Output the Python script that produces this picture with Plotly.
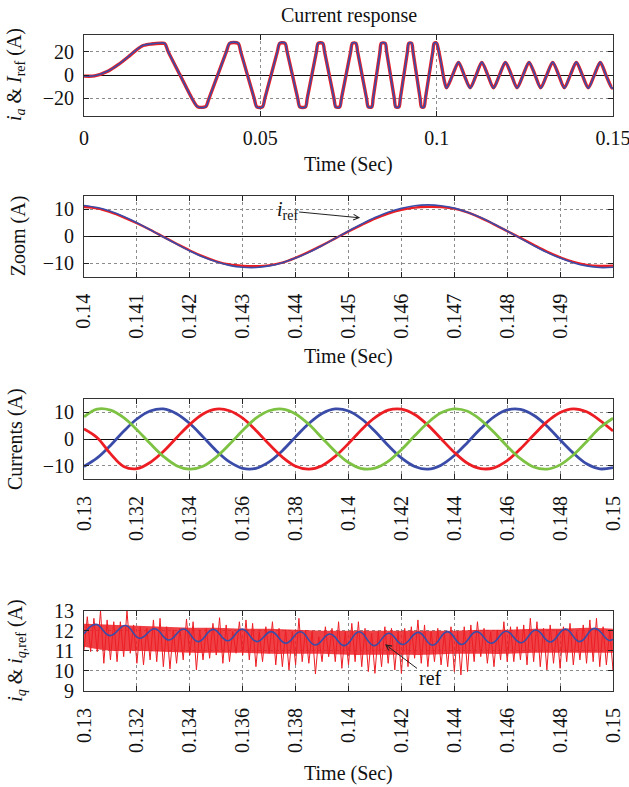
import plotly.graph_objects as go

# ---------------- data ----------------
# Panel 1: phase current and its reference over the whole run
t_top = [
    0.0000, 0.0030, 0.0069, 0.0097, 0.0125, 0.0149, 0.0168, 0.0191, 0.0218, 0.0229,
    0.0239, 0.02725, 0.0306, 0.0322, 0.0345,
    0.03545, 0.0379, 0.04035, 0.0413, 0.0437,
    0.04445, 0.04635, 0.04825, 0.0490, 0.0506,
    0.05129, 0.05305, 0.05481, 0.0555, 0.0570,
    0.0576, 0.0591, 0.0606, 0.0612, 0.0628,
    0.0633, 0.0646, 0.0659, 0.0664, 0.0677,
    0.06822, 0.06955, 0.07088, 0.0714, 0.0725,
    0.0730, 0.0743, 0.0756, 0.0761, 0.0771,
    0.07759, 0.07885, 0.08011, 0.0806, 0.0816,
    0.08198, 0.08295, 0.08392, 0.0843, 0.0854,
    0.08582, 0.0869, 0.08798, 0.0884, 0.0893,
    0.0897, 0.0907, 0.0917, 0.0921, 0.0929,
    0.0933, 0.0943, 0.0953, 0.0957, 0.0964,
    0.09681, 0.09785, 0.09889, 0.0993, 0.1000,
    0.1005, 0.1014, 0.1021, 0.1028,
    0.1045, 0.1062, 0.1078, 0.1095, 0.1112, 0.1128, 0.1145, 0.1161, 0.1178, 0.1195,
    0.1212, 0.1228, 0.1245, 0.1262, 0.1279, 0.1295, 0.1312, 0.1329, 0.1346, 0.1362,
    0.1379, 0.1396, 0.1413, 0.1430, 0.1447, 0.1464, 0.1480, 0.1497, 0.1500,
]
iref_top = [
    -0.8, -0.6, 3.7, 9.1, 15.7, 22.0, 25.7, 26.9, 27.7, 27.4,
    20, 0, -20, -27.4, -27.4,
    -20, 0, 20, 27.7, 27.7,
    20, 0, -20, -27.7, -27.7,
    -20, 0, 20, 27.7, 27.7,
    20, 0, -20, -27.7, -27.7,
    -20, 0, 20, 27.7, 27.7,
    20, 0, -20, -27.7, -27.7,
    -20, 0, 20, 27.7, 27.7,
    20, 0, -20, -27.7, -27.7,
    -20, 0, 20, 27.7, 27.7,
    20, 0, -20, -27.7, -27.7,
    -20, 0, 20, 27.7, 27.7,
    20, 0, -20, -27.7, -27.7,
    -20, 0, 20, 27.7, 27.7,
    22, 8, -4, -11.2,
    0, 11.2, 0, -11.2, 0, 11.2, 0, -11.2, 0, 11.2,
    0, -11.2, 0, 11.2, 0, -11.2, 0, 11.2, 0, -11.2,
    0, 11.2, 0, -11.2, 0, 11.2, 0, -11.2, -11.0,
]
ia_top = [
    -0.9, -0.7, 3.5, 9.0, 15.6, 21.8, 25.5, 26.8, 27.4, 27.2,
    20, 0, -20, -27.2, -27.2,
    -20, 0, 20, 27.4, 27.4,
    20, 0, -20, -27.4, -27.4,
    -20, 0, 20, 27.4, 27.4,
    20, 0, -20, -27.4, -27.4,
    -20, 0, 20, 27.4, 27.4,
    20, 0, -20, -27.4, -27.4,
    -20, 0, 20, 27.4, 27.4,
    20, 0, -20, -27.4, -27.4,
    -20, 0, 20, 27.4, 27.4,
    20, 0, -20, -27.4, -27.4,
    -20, 0, 20, 27.4, 27.4,
    20, 0, -20, -27.4, -27.4,
    -20, 0, 20, 27.4, 27.4,
    22, 8, -4, -11.0,
    0, 11.0, 0, -11.0, 0, 11.0, 0, -11.0, 0, 11.0,
    0, -11.0, 0, 11.0, 0, -11.0, 0, 11.0, 0, -11.0,
    0, 11.0, 0, -11.0, 0, 11.0, 0, -11.0, -10.8,
]

# Panel 2: one period of the phase current, close up
t_zoom = [
    0.14000, 0.14025, 0.14050, 0.14075, 0.14100, 0.14125, 0.14150, 0.14175, 0.14200, 0.14225,
    0.14250, 0.14275, 0.14300, 0.14325, 0.14350, 0.14375, 0.14400, 0.14425, 0.14450, 0.14475,
    0.14500, 0.14525, 0.14550, 0.14575, 0.14600, 0.14625, 0.14650, 0.14675, 0.14700, 0.14725,
    0.14750, 0.14775, 0.14800, 0.14825, 0.14850, 0.14875, 0.14900, 0.14925, 0.14950, 0.14975,
    0.15000,
]
iref_zoom = [
    11.4, 10.6, 9.2, 7.3, 5.0, 2.4, -0.3, -2.9, -5.5, -7.7,
    -9.5, -10.8, -11.5, -11.6, -11.0, -9.8, -8.1, -6.0, -3.5, -0.8,
    1.9, 4.5, 6.9, 8.9, 10.3, 11.3, 11.6, 11.3, 10.4, 8.9,
    6.9, 4.5, 1.9, -0.8, -3.5, -6.0, -8.1, -9.8, -11.0, -11.6,
    -11.5,
]
ia_zoom = [
    10.8, 10.3, 8.9, 7.0, 4.8, 2.4, -0.2, -2.8, -5.3, -7.5,
    -9.3, -10.5, -11.0, -11.1, -10.8, -9.8, -8.0, -5.8, -3.4, -0.8,
    1.8, 4.2, 6.5, 8.4, 9.8, 10.6, 10.9, 10.8, 10.2, 8.8,
    6.8, 4.4, 1.9, -0.6, -3.2, -5.7, -7.8, -9.5, -10.6, -11.0,
    -10.9,
]

# Panel 3: three phase currents
t_abc = [
    0.1300, 0.1305, 0.1310, 0.1315, 0.1320, 0.1325, 0.1330, 0.1335, 0.1340, 0.1345,
    0.1350, 0.1355, 0.1360, 0.1365, 0.1370, 0.1375, 0.1380, 0.1385, 0.1390, 0.1395,
    0.1400, 0.1405, 0.1410, 0.1415, 0.1420, 0.1425, 0.1430, 0.1435, 0.1440, 0.1445,
    0.1450, 0.1455, 0.1460, 0.1465, 0.1470, 0.1475, 0.1480, 0.1485, 0.1490, 0.1495,
    0.1500,
]
ia_abc = [
    -10.3, -7.1, -2.4, 2.9, 7.5, 10.5, 11.3, 9.5, 5.8, 0.8,
    -4.4, -8.6, -11.0, -11.0, -8.6, -4.4, 0.8, 5.8, 9.6, 11.3,
    10.5, 7.5, 2.9, -2.4, -7.1, -10.3, -11.3, -9.8, -6.2, -1.3,
    3.9, 8.3, 10.9, 11.1, 8.9, 4.9, -0.3, -5.3, -9.3, -11.2,
    -10.7,
]
ib_abc = [
    3.8, 0.5, -5.5, -10.3, -11.1, -8.8, -4.7, 0.5, 5.5, 9.4,
    11.2, 10.6, 7.8, 3.2, -2.0, -6.8, -10.2, -11.3, -10.0, -6.5,
    -1.7, 3.6, 8.0, 10.8, 11.2, 9.2, 5.2, 0.1, -5.0, -9.1,
    -11.1, -10.8, -8.1, -3.7, 1.5, 6.4, 9.9, 11.3, 10.2, 7.0,
    3.0,
]
ic_abc = [
    8.3, 11.2, 10.8, 8.0, 3.5, -1.7, -6.5, -10.0, -11.3, -10.2,
    -6.8, -2.0, 3.2, 7.8, 10.6, 11.2, 9.4, 5.5, 0.4, -4.7,
    -8.8, -11.1, -10.9, -8.4, -4.0, 1.2, 6.1, 9.8, 11.3, 10.4,
    7.2, 2.5, -2.7, -7.4, -10.5, -11.3, -9.7, -6.0, -1.0, 4.2,
    7.8,
]

# Panel 4: q-axis current (noise envelope per 0.25 ms bin) and its reference
t_iq = [
    0.13000, 0.13025, 0.13050, 0.13075, 0.13100, 0.13125, 0.13150, 0.13175, 0.13200, 0.13225,
    0.13250, 0.13275, 0.13300, 0.13325, 0.13350, 0.13375, 0.13400, 0.13425, 0.13450, 0.13475,
    0.13500, 0.13525, 0.13550, 0.13575, 0.13600, 0.13625, 0.13650, 0.13675, 0.13700, 0.13725,
    0.13750, 0.13775, 0.13800, 0.13825, 0.13850, 0.13875, 0.13900, 0.13925, 0.13950, 0.13975,
    0.14000, 0.14025, 0.14050, 0.14075, 0.14100, 0.14125, 0.14150, 0.14175, 0.14200, 0.14225,
    0.14250, 0.14275, 0.14300, 0.14325, 0.14350, 0.14375, 0.14400, 0.14425, 0.14450, 0.14475,
    0.14500, 0.14525, 0.14550, 0.14575, 0.14600, 0.14625, 0.14650, 0.14675, 0.14700, 0.14725,
    0.14750, 0.14775, 0.14800, 0.14825, 0.14850, 0.14875, 0.14900, 0.14925, 0.14950, 0.14975,
    0.15000,
]
iq_hi = [
    12.70, 12.62, 13.00, 12.54, 12.45, 12.45, 13.00, 12.29, 12.20, 12.12,
    12.54, 12.62, 12.20, 12.04, 12.12, 12.58, 12.45, 12.04, 12.12, 12.37,
    12.65, 12.29, 11.96, 12.45, 12.54, 12.37, 11.96, 12.20, 12.45, 12.12,
    12.04, 11.96, 12.62, 12.04, 11.96, 11.70, 12.20, 12.12, 12.45, 11.96,
    12.37, 12.45, 12.12, 11.87, 11.96, 12.20, 12.12, 11.96, 12.12, 12.20,
    12.54, 12.29, 11.96, 12.12, 11.87, 12.20, 11.96, 12.20, 12.29, 12.45,
    12.12, 11.96, 12.04, 12.45, 12.20, 12.20, 12.29, 12.62, 12.45, 12.12,
    12.29, 12.04, 12.20, 12.37, 11.96, 12.29, 12.54, 12.62, 12.20, 12.04,
    11.96,
]
iq_lo = [
    11.04, 10.96, 10.96, 10.38, 10.55, 10.46, 10.71, 10.88, 10.38, 10.30,
    10.55, 10.46, 10.21, 10.10, 10.38, 10.55, 10.79, 10.05, 10.55, 10.63,
    10.79, 10.38, 10.46, 10.88, 10.79, 10.55, 10.21, 10.46, 10.88, 10.30,
    10.21, 10.05, 10.30, 10.46, 10.38, 9.85, 10.46, 10.71, 10.46, 10.13,
    10.30, 10.46, 10.21, 9.97, 9.88, 10.21, 10.38, 10.05, 9.88, 10.21,
    10.63, 10.38, 10.21, 10.46, 10.30, 10.21, 9.97, 9.80, 9.97, 10.46,
    10.71, 10.38, 10.21, 10.55, 10.46, 10.46, 10.55, 10.30, 10.46, 10.21,
    10.05, 10.38, 10.13, 10.46, 10.30, 10.55, 10.38, 10.46, 10.21, 10.30,
    10.05,
]
# dense part of the noise band, per 1 ms
t_core = [
    0.130, 0.131, 0.132, 0.133, 0.134, 0.135, 0.136, 0.137, 0.138, 0.139, 0.140,
    0.141, 0.142, 0.143, 0.144, 0.145, 0.146, 0.147, 0.148, 0.149, 0.150,
]
core_hi = [12.35, 12.30, 12.25, 12.20, 12.15, 12.15, 12.10, 12.10, 12.05, 12.00, 12.00,
           12.00, 12.00, 12.00, 12.00, 12.05, 12.05, 12.10, 12.10, 12.15, 12.10]
core_lo = [11.20, 11.00, 11.00, 10.95, 10.90, 10.90, 10.90, 10.85, 10.85, 10.85, 10.80,
           10.80, 10.80, 10.80, 10.85, 10.85, 10.85, 10.90, 10.90, 10.90, 10.90]
t_iqref = [
    0.13000, 0.13045, 0.13098, 0.13157, 0.13210, 0.13268, 0.13320, 0.13377, 0.13432, 0.13488,
    0.13543, 0.13598, 0.13654, 0.13708, 0.13763, 0.13818, 0.13874, 0.13930, 0.13985, 0.14040,
    0.14097, 0.14152, 0.14205, 0.14264, 0.14318, 0.14374, 0.14428, 0.14484, 0.14540, 0.14596,
    0.14652, 0.14708, 0.14763, 0.14820, 0.14874, 0.14930, 0.14985, 0.15000,
]
iq_ref = [
    11.85, 12.32, 11.76, 12.26, 11.63, 12.10, 11.54, 12.09, 11.46, 12.07,
    11.50, 12.08, 11.46, 11.96, 11.38, 11.95, 11.29, 11.84, 11.26, 11.95,
    11.26, 11.88, 11.32, 11.92, 11.28, 11.96, 11.32, 11.96, 11.38, 11.98,
    11.40, 12.04, 11.44, 12.08, 11.46, 12.12, 11.52, 11.58,
]

# tick positions and labels
xt_top = [0, 0.05, 0.1, 0.15]
xl_top = ["0", "0.05", "0.1", "0.15"]
xt_zoom = [0.140, 0.141, 0.142, 0.143, 0.144, 0.145, 0.146, 0.147, 0.148, 0.149]
xl_zoom = ["0.14", "0.141", "0.142", "0.143", "0.144", "0.145", "0.146", "0.147", "0.148", "0.149"]
xt_abc = [0.130, 0.132, 0.134, 0.136, 0.138, 0.140, 0.142, 0.144, 0.146, 0.148, 0.150]
xl_abc = ["0.13", "0.132", "0.134", "0.136", "0.138", "0.14", "0.142", "0.144", "0.146", "0.148", "0.15"]
yt_top = [-20, 0, 20]
yl_top = ["\u221220", "0", "20"]
yt_ten = [-10, 0, 10]
yl_ten = ["\u221210", "0", "10"]
yt_iq = [9, 10, 11, 12, 13]
yl_iq = ["9", "10", "11", "12", "13"]

# ---------------- styling ----------------
W, H = 629, 787
FONT = "Liberation Serif"
FS = 20
RED = "#EC1E24"
BLUE = "#3A4CA8"
GREEN = "#7DC243"
INK = "#111111"

XD = [84 / W, 613 / W]


def ydom(top_px, bottom_px):
    return [1 - bottom_px / H, 1 - top_px / H]


def py(px):
    return 1 - px / H


def px_x(px):
    return px / W


axis_common = dict(
    ticks="inside", ticklen=5, tickwidth=1, tickcolor="#222",
    showline=True, linecolor="#333", linewidth=1, mirror="ticks",
    showgrid=True, gridcolor="#8c8c8c", griddash="dot", gridwidth=1,
    tickfont=dict(family=FONT, size=FS, color=INK), tickmode="array",
    automargin=False, ticklabeloverflow="allow",
)


def xaxis(anchor, rng, tv, tt, angle, standoff):
    return dict(axis_common, domain=XD, anchor=anchor, range=rng, tickvals=tv,
                ticktext=tt, tickangle=angle, zeroline=False,
                ticklabelstandoff=standoff)


def yaxis(anchor, dom, rng, tv, tt, zero):
    return dict(axis_common, domain=dom, anchor=anchor, range=rng, tickvals=tv,
                ticktext=tt, zeroline=zero, zerolinecolor=INK, zerolinewidth=1,
                ticklabelstandoff=5)


fig = go.Figure()

# panel 1
fig.add_trace(go.Scatter(x=t_top, y=ia_top, mode="lines", xaxis="x", yaxis="y",
                         line=dict(color=RED, width=3.4, shape="spline", smoothing=0.8)))
fig.add_trace(go.Scatter(x=t_top, y=iref_top, mode="lines", xaxis="x", yaxis="y",
                         line=dict(color=BLUE, width=1.6, shape="spline", smoothing=0.8)))

# panel 2
fig.add_trace(go.Scatter(x=t_zoom, y=ia_zoom, mode="lines", xaxis="x2", yaxis="y2",
                         line=dict(color=RED, width=2.4, shape="spline")))
fig.add_trace(go.Scatter(x=t_zoom, y=iref_zoom, mode="lines", xaxis="x2", yaxis="y2",
                         line=dict(color=BLUE, width=1.6, shape="spline")))

# panel 3
for series, colour in ((ia_abc, BLUE), (ib_abc, RED), (ic_abc, GREEN)):
    fig.add_trace(go.Scatter(x=t_abc, y=series, mode="lines", xaxis="x3", yaxis="y3",
                             line=dict(color=colour, width=2.8, shape="spline")))

# panel 4: dense core of the measured current, then its min/max strokes
fig.add_trace(go.Scatter(x=t_core, y=core_lo, mode="lines", xaxis="x4", yaxis="y4",
                         line=dict(width=0, shape="spline"), showlegend=False))
fig.add_trace(go.Scatter(x=t_core, y=core_hi, mode="lines", xaxis="x4", yaxis="y4",
                         fill="tonexty", fillcolor="rgba(236,30,36,0.85)",
                         line=dict(width=0, shape="spline")))
half_bin = (t_iq[1] - t_iq[0]) / 2
zz_x, zz_y = [], []
for t, lo, hi in zip(t_iq, iq_lo, iq_hi):
    zz_x += [t, t + half_bin]
    zz_y += [lo, hi]
fig.add_trace(go.Scatter(x=zz_x, y=zz_y, mode="lines", xaxis="x4", yaxis="y4",
                         line=dict(color=RED, width=1)))
fig.add_trace(go.Scatter(x=t_iqref, y=iq_ref, mode="lines", xaxis="x4", yaxis="y4",
                         line=dict(color=BLUE, width=1.6, shape="spline", smoothing=1.3)))

P1 = (34.5, 115.7)
P2 = (195.7, 276.7)
P3 = (399.0, 479.0)
P4 = (610.7, 691.0)

fig.update_layout(
    width=W, height=H, autosize=False, showlegend=False,
    margin=dict(l=0, r=0, t=0, b=0, pad=0),
    paper_bgcolor="white", plot_bgcolor="white",
    xaxis=xaxis("y", [0, 0.15], xt_top, xl_top, 0, 4),
    yaxis=yaxis("x", ydom(*P1), [-35, 35], yt_top, yl_top, True),
    xaxis2=xaxis("y2", [0.14, 0.15], xt_zoom, xl_zoom, -90, 8),
    yaxis2=yaxis("x2", ydom(*P2), [-15, 15], yt_ten, yl_ten, True),
    xaxis3=xaxis("y3", [0.13, 0.15], xt_abc, xl_abc, -90, 8),
    yaxis3=yaxis("x3", ydom(*P3), [-15, 15], yt_ten, yl_ten, True),
    xaxis4=xaxis("y4", [0.13, 0.15], xt_abc, xl_abc, -90, 8),
    yaxis4=yaxis("x4", ydom(*P4), [9, 13], yt_iq, yl_iq, False),
)

txt = dict(family=FONT, size=FS, color=INK)
cx = px_x((84 + 613) / 2)
notes = [
    dict(text="Current response", x=cx, y=py(16)),
    dict(text="Time (Sec)", x=cx, y=py(164)),
    dict(text="Time (Sec)", x=cx, y=py(356)),
    dict(text="Time (Sec)", x=cx, y=py(773)),
    dict(text="<i>i<sub>a</sub></i> & <i>I</i><sub>ref</sub> (A)", x=px_x(15),
         y=py(sum(P1) / 2), textangle=-90),
    dict(text="Zoom (A)", x=px_x(18), y=py(sum(P2) / 2), textangle=-90),
    dict(text="Currents (A)", x=px_x(15), y=py(sum(P3) / 2), textangle=-90),
    dict(text="<i>i<sub>q</sub></i> & <i>i</i><sub><i>q</i>,ref</sub> (A)", x=px_x(17),
         y=py(sum(P4) / 2), textangle=-90),
]
for n in notes:
    fig.add_annotation(xref="paper", yref="paper", showarrow=False,
                       xanchor="center", yanchor="middle", font=txt, **n)

fig.add_annotation(xref="x2", yref="y2", x=0.14522, y=6.8, ax=-73, ay=-7,
                   text="<i>i</i><sub>ref</sub>", font=txt, showarrow=True,
                   arrowhead=5, arrowsize=1.1, arrowwidth=1, arrowcolor="#222")
fig.add_annotation(xref="x4", yref="y4", x=0.14138, y=11.33, ax=45, ay=34,
                   text="ref", font=txt, showarrow=True,
                   arrowhead=5, arrowsize=1.1, arrowwidth=1, arrowcolor="#222")

fig.write_html("out.html")
